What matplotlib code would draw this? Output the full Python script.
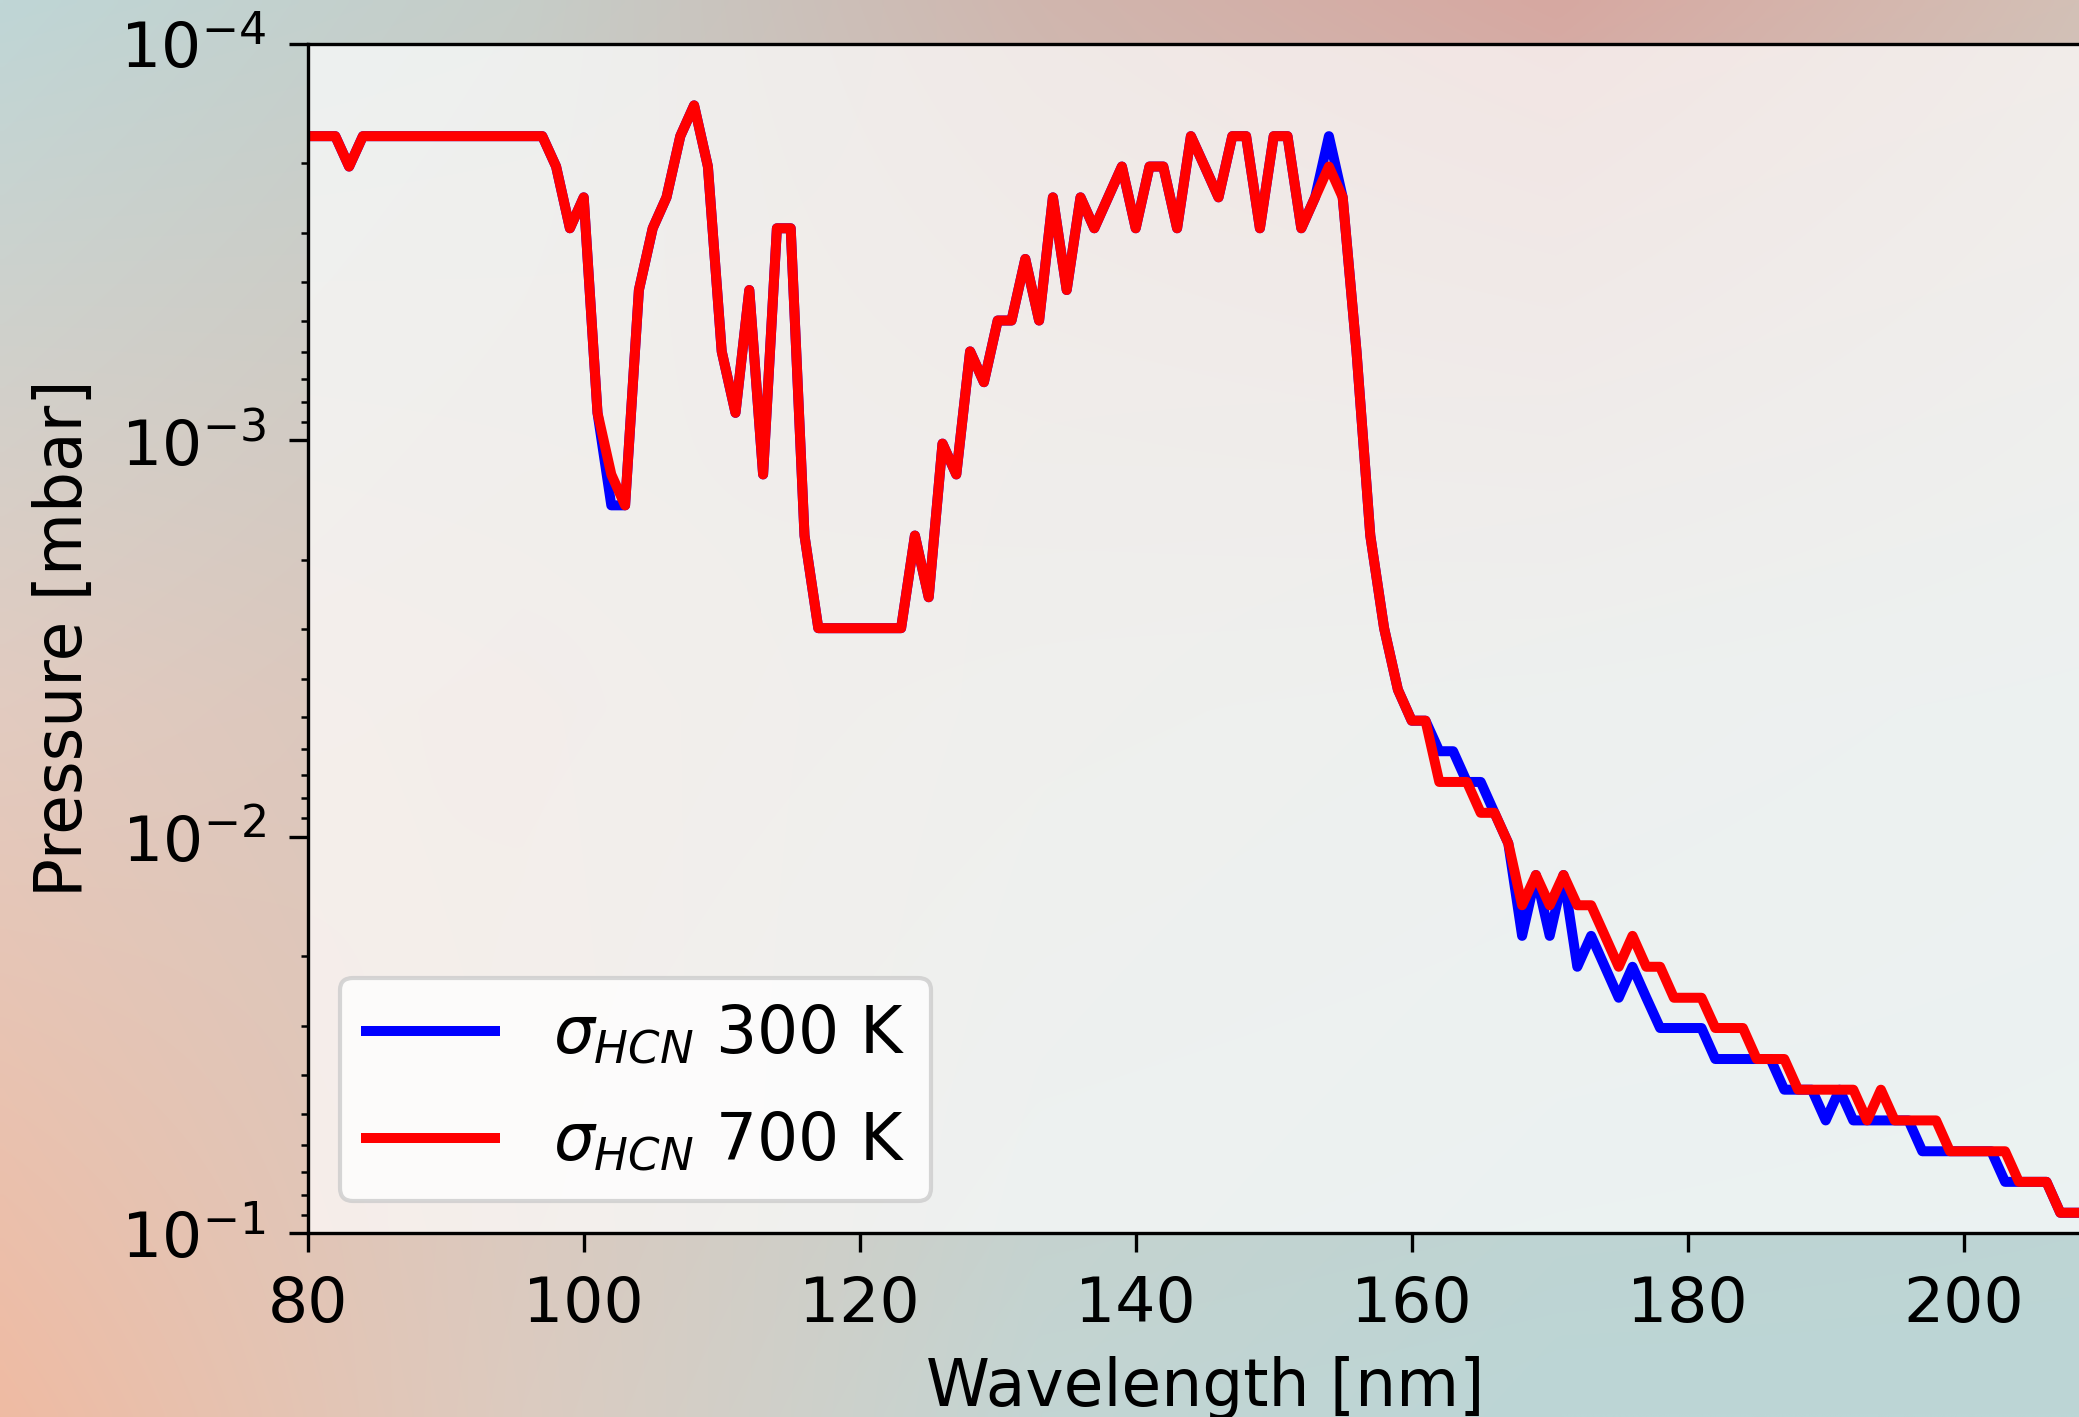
import numpy as np
import matplotlib
matplotlib.use("Agg")
import matplotlib.pyplot as plt

# ---------------- data ----------------
wavelength = list(range(80, 210))

p_700 = ([1.71e-4] * 3 + [2.04e-4] + [1.71e-4] * 14 +
         [2.04e-4, 2.92e-4, 2.44e-4, 8.53e-4, 1.22e-3, 1.46e-3, 4.18e-4, 2.92e-4,
          2.44e-4, 1.71e-4, 1.43e-4, 2.04e-4, 5.97e-4, 8.53e-4, 4.18e-4, 1.22e-3,
          2.92e-4, 2.92e-4, 1.74e-3] +
         [2.98e-3] * 7 +
         [1.74e-3, 2.49e-3, 1.02e-3, 1.22e-3, 5.97e-4, 7.14e-4, 4.99e-4, 4.99e-4,
          3.49e-4, 4.99e-4, 2.44e-4, 4.18e-4, 2.44e-4, 2.92e-4, 2.44e-4, 2.04e-4,
          2.92e-4, 2.04e-4, 2.04e-4, 2.92e-4, 1.71e-4, 2.04e-4, 2.44e-4, 1.71e-4,
          1.71e-4, 2.92e-4, 1.71e-4, 1.71e-4, 2.92e-4, 2.44e-4, 2.04e-4, 2.44e-4,
          5.97e-4, 1.74e-3, 2.98e-3, 4.26e-3, 5.10e-3, 5.10e-3] +
         [7.28e-3] * 3 + [8.71e-3] * 2 +
         [1.04e-2, 1.49e-2, 1.25e-2, 1.49e-2, 1.25e-2, 1.49e-2, 1.49e-2, 1.78e-2,
          2.13e-2, 1.78e-2, 2.13e-2, 2.13e-2] +
         [2.55e-2] * 3 + [3.04e-2] * 3 + [3.64e-2] * 3 + [4.35e-2] * 5 +
         [5.20e-2, 4.35e-2] + [5.20e-2] * 4 + [6.22e-2] * 5 + [7.43e-2] * 3 +
         [8.89e-2] * 3)

p_300 = ([1.71e-4] * 3 + [2.04e-4] + [1.71e-4] * 14 +
         [2.04e-4, 2.92e-4, 2.44e-4, 8.53e-4, 1.46e-3, 1.46e-3, 4.18e-4, 2.92e-4,
          2.44e-4, 1.71e-4, 1.43e-4, 2.04e-4, 5.97e-4, 8.53e-4, 4.18e-4, 1.22e-3,
          2.92e-4, 2.92e-4, 1.74e-3] +
         [2.98e-3] * 7 +
         [1.74e-3, 2.49e-3, 1.02e-3, 1.22e-3, 5.97e-4, 7.14e-4, 4.99e-4, 4.99e-4,
          3.49e-4, 4.99e-4, 2.44e-4, 4.18e-4, 2.44e-4, 2.92e-4, 2.44e-4, 2.04e-4,
          2.92e-4, 2.04e-4, 2.04e-4, 2.92e-4, 1.71e-4, 2.04e-4, 2.44e-4, 1.71e-4,
          1.71e-4, 2.92e-4, 1.71e-4, 1.71e-4, 2.92e-4, 2.44e-4, 1.71e-4, 2.44e-4,
          5.97e-4, 1.74e-3, 2.98e-3, 4.26e-3, 5.10e-3, 5.10e-3] +
         [6.09e-3] * 2 + [7.28e-3] * 2 + [8.71e-3] +
         [1.04e-2, 1.78e-2, 1.25e-2, 1.78e-2, 1.25e-2, 2.13e-2, 1.78e-2, 2.13e-2,
          2.55e-2, 2.13e-2, 2.55e-2] +
         [3.04e-2] * 4 + [3.64e-2] * 5 + [4.35e-2] * 3 +
         [5.20e-2, 4.35e-2] + [5.20e-2] * 5 + [6.22e-2] * 6 + [7.43e-2] * 4 +
         [8.89e-2] * 3)

labels = [r'$\sigma_{HCN}$ 300 K', r'$\sigma_{HCN}$ 700 K']
xlabel = 'Wavelength [nm]'
ylabel = 'Pressure [mbar]'
xticks = [80, 100, 120, 140, 160, 180, 200]

assert len(p_700) == len(wavelength) and len(p_300) == len(wavelength)

# ---------------- figure ----------------
W, H, DPI = 2079, 1417, 300
fig = plt.figure(figsize=(W / DPI, H / DPI), dpi=DPI)
plt.rcParams['font.size'] = 15.2


def hexrgb(h):
    h = h.lstrip('#')
    return [int(h[i:i + 2], 16) / 255.0 for i in (0, 2, 4)]


# background gradient from a coarse colour grid (rows: top, middle, bottom)
grid = np.array([
    [hexrgb(c) for c in ['#bfd6d6', '#c6cdc8', '#d0b6ae', '#d7a8a1', '#d3c0b6']],
    [hexrgb(c) for c in ['#e2cbc0', '#d8c6bc', '#cbccc5', '#c5cfcb', '#c2d2d0']],
    [hexrgb(c) for c in ['#efbba3', '#dccbc0', '#c3d5d3', '#bcd6d6', '#bcd6d6']],
])
ny, nx = 240, 320
gy = np.linspace(0, grid.shape[0] - 1, ny)
gx = np.linspace(0, grid.shape[1] - 1, nx)
# bilinear upsample
y0 = np.clip(np.floor(gy).astype(int), 0, grid.shape[0] - 2)
x0 = np.clip(np.floor(gx).astype(int), 0, grid.shape[1] - 2)
fy = (gy - y0)[:, None, None]
fx = (gx - x0)[None, :, None]
c00 = grid[y0][:, x0]
c01 = grid[y0][:, x0 + 1]
c10 = grid[y0 + 1][:, x0]
c11 = grid[y0 + 1][:, x0 + 1]
img = (c00 * (1 - fy) * (1 - fx) + c01 * (1 - fy) * fx +
       c10 * fy * (1 - fx) + c11 * fy * fx)
bg = fig.add_axes([0, 0, 1, 1], zorder=-10)
bg.imshow(img, extent=[0, 1, 0, 1], aspect='auto', origin='upper', interpolation='bilinear')
bg.axis('off')

left = 307.7 / W
bottom = (H - 1233) / H
top = (H - 43.8) / H
xmin, xmax = 80, 210
width = (xmax - xmin) * 13.8 / W
ax = fig.add_axes([left, bottom, width, top - bottom])
ax.set_facecolor((1, 1, 1, 0.70))

ax.plot(wavelength, p_300, color='blue', lw=2.4, label=labels[0])
ax.plot(wavelength, p_700, color='red', lw=2.4, label=labels[1])

ax.set_yscale('log')
ax.set_ylim(1e-1, 1e-4)
ax.set_xlim(xmin, xmax)
ax.set_xticks(xticks)
ax.tick_params(which='major', length=4.5, pad=5.6, labelsize=15.2)
ax.tick_params(which='minor', length=1.8)
ax.set_xlabel(xlabel, fontsize=15.5, labelpad=5)
ax.set_ylabel(ylabel, fontsize=15.5, labelpad=5.6)
ax.legend(loc='lower left', fontsize=15.5, labelspacing=0.67, handletextpad=0.9)

fig.savefig('out.png', dpi=DPI)
